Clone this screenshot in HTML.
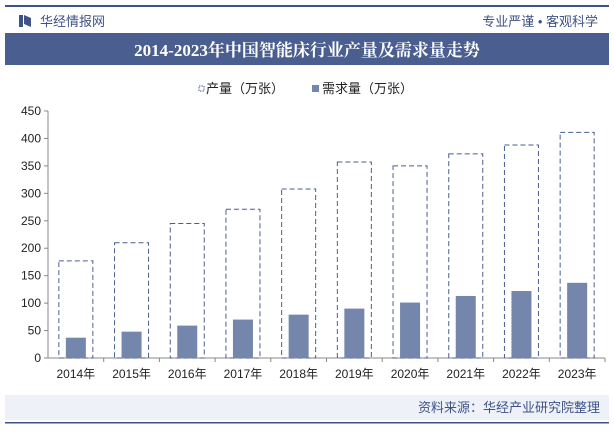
<!DOCTYPE html>
<html><head><meta charset="utf-8"><style>
body{margin:0;width:614px;height:429px;background:#fff;font-family:"Liberation Sans","Noto Sans CJK SC",sans-serif;overflow:hidden}
</style></head><body>
<svg width="614" height="429" xmlns="http://www.w3.org/2000/svg" font-family="Liberation Sans, Noto Sans CJK SC, sans-serif">
<rect x="5" y="5" width="604" height="2" fill="#3f5285"/>
<rect x="19" y="15" width="4" height="12" fill="#3f5285"/>
<polygon points="24,15 31,18 31,27 24,24" fill="#3f5285"/>
<text x="40" y="26" font-size="13" fill="#3f5285">华经情报网</text>
<text x="598" y="26" font-size="13" fill="#3f5285" text-anchor="end">专业严谨 • 客观科学</text>
<rect x="5" y="33" width="604" height="32" fill="#4a5f8f"/>
<text x="307" y="56" font-size="17" font-weight="bold" fill="#fff" text-anchor="middle" font-family="Liberation Serif, Noto Serif CJK SC, serif">2014-2023年中国智能床行业产量及需求量走势</text>
<rect x="199" y="86" width="5" height="5" fill="none" stroke="#4a5f8f" stroke-dasharray="1.5,1"/>
<text x="206" y="93" font-size="13" fill="#222">产量（万张）</text>
<rect x="312" y="85" width="7" height="7" fill="#7486ab"/>
<text x="322" y="93" font-size="13" fill="#222">需求量（万张）</text>
<g id="plot"></g>
<rect x="5" y="395" width="604" height="25" fill="#eef2f8"/>
<text x="600" y="412" font-size="13" fill="#3f5285" text-anchor="end">资料来源：华经产业研究院整理</text>
<rect x="5" y="422" width="604" height="1.5" fill="#3f5285"/>
</svg>
<script>
const categories=["2014年","2015年","2016年","2017年","2018年","2019年","2020年","2021年","2022年","2023年"];
const production=[177,210,245,271,308,357,350,372,388,411];
const demand=[37,48,59,70,79,90,101,113,122,137];
const yTicks=[0,50,100,150,200,250,300,350,400,450];
const NS="http://www.w3.org/2000/svg";
const g=document.getElementById('plot');
const x0=48,x1=605,y0=358,y1=111,yMax=450;
const bw=(x1-x0)/categories.length;
const y=v=>y0-(v/yMax)*(y0-y1);
function mk(t,a){const e=document.createElementNS(NS,t);for(const k in a)e.setAttribute(k,a[k]);g.appendChild(e);return e;}
let ax=mk('line',{x1:x0,y1:y1,x2:x0,y2:y0,stroke:'#888'});


let xa=mk('line',{x1:x0,y1:y0,x2:x1,y2:y0,stroke:'#888'});


yTicks.forEach(v=>{
  mk('line',{x1:x0-4,y1:y(v),x2:x0,y2:y(v),stroke:'#888'});
  const t=mk('text',{x:x0-7,y:y(v)+4,'font-size':12,'text-anchor':'end',fill:'#222'});
  t.textContent=v;
  
  
});
categories.forEach((c,i)=>{
  const cx=x0+bw*(i+0.5);
  mk('line',{x1:x0+bw*(i+1),y1:y0,x2:x0+bw*(i+1),y2:y0+4,stroke:'#888'});
  const pw=34,dw=20;
  const p=mk('rect',{x:cx-pw/2,y:y(production[i]),width:pw,height:y0-y(production[i]),fill:'none',stroke:'#4a5f8f','stroke-width':1,'stroke-dasharray':'5,3'});
  
  
  const d=mk('rect',{x:cx-dw/2,y:y(demand[i]),width:dw,height:y0-y(demand[i]),fill:'#7486ab'});
  
  
  const t=mk('text',{x:cx,y:378,'font-size':12,'text-anchor':'middle',fill:'#222'});
  t.textContent=c;
  
  
});
</script>
</body></html>
